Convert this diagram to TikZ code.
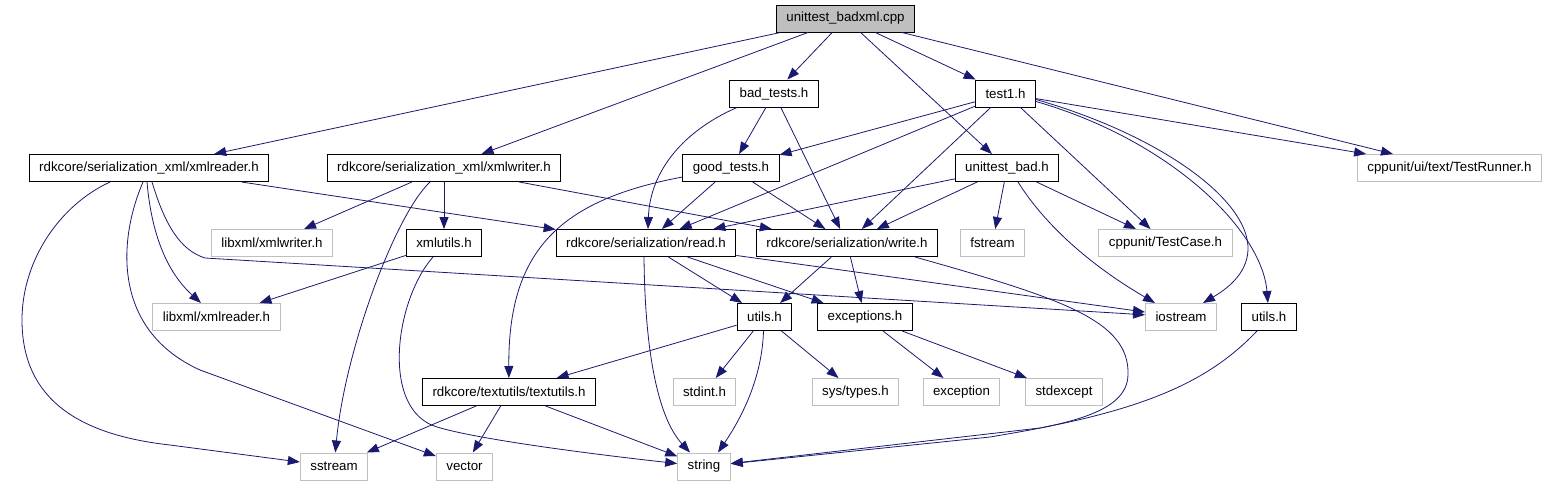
\documentclass[tikz,border=0pt]{standalone}
\usepackage{fontspec}
\setmainfont{Liberation Sans}
\usetikzlibrary{arrows.meta}
\definecolor{edgeblue}{HTML}{191970}
\definecolor{boxgray}{HTML}{BFBFBF}

\begin{document}
\begin{tikzpicture}[x=1pt, y=-1pt]
\tikzstyle{header} = [rectangle, minimum height=27pt, inner xsep=10pt, inner ysep=0pt, draw=black, line width=1pt, text=black, font=\fontsize{13.3}{16}\selectfont]
\tikzstyle{syshead} = [header, draw=boxgray]
\tikzstyle{source} = [header, fill=boxgray]
\tikzstyle{arrow} = [draw=edgeblue, line width=0.8pt, -{Triangle[length=12pt,width=9pt]}]

\useasboundingbox (0,0) rectangle (1547,485);

\node (root) [source] at (845.5,18.5) {unittest\_badxml.cpp};
\node (badtests) [header] at (774,93.5) {bad\_tests.h};
\node (test1) [header] at (1005.5,93.5) {test1.h};
\node (xmlreader) [header] at (149,168) {rdkcore/serialization\_xml/xmlreader.h};
\node (xmlwriter) [header] at (444,168) {rdkcore/serialization\_xml/xmlwriter.h};
\node (goodtests) [header] at (731,168) {good\_tests.h};
\node (unitbad) [header] at (1007,168) {unittest\_bad.h};
\node (runner) [syshead] at (1449.5,168) {cppunit/ui/text/TestRunner.h};
\node (libwriter) [syshead] at (272,243) {libxml/xmlwriter.h};
\node (xmlutils) [header] at (444,243) {xmlutils.h};
\node (readh) [header] at (646,243) {rdkcore/serialization/read.h};
\node (writeh) [header] at (847,243) {rdkcore/serialization/write.h};
\node (fstream) [syshead] at (992.5,243) {fstream};
\node (testcase) [syshead] at (1165.5,243) {cppunit/TestCase.h};
\node (libreader) [syshead] at (216.5,317) {libxml/xmlreader.h};
\node (utils) [header] at (764.5,317) {utils.h};
\node (exceptions) [header] at (865,317) {exceptions.h};
\node (iostream) [syshead] at (1181,317) {iostream};
\node (utilsb) [header] at (1269,317) {utils.h};
\node (textutils) [header] at (509,392) {rdkcore/textutils/textutils.h};
\node (stdint) [syshead] at (704.5,392) {stdint.h};
\node (systypes) [syshead] at (855.5,392) {sys/types.h};
\node (exception) [syshead] at (961.5,392) {exception};
\node (stdexcept) [syshead] at (1064,392) {stdexcept};
\node (sstream) [syshead] at (334,466.5) {sstream};
\node (vector) [syshead] at (464.5,466.5) {vector};
\node (string) [syshead] at (704,466.5) {string};

\draw [arrow] (root) -- (xmlreader);
\draw [arrow] (root) -- (xmlwriter);
\draw [arrow] (root) -- (badtests);
\draw [arrow] (root) -- (test1);
\draw [arrow] (root) -- (unitbad);
\draw [arrow] (root) -- (runner);

\draw [arrow] (badtests) -- (goodtests);
\draw [arrow] ([xshift=-37pt]badtests.south) .. controls (685,130) and (650,170) .. ([xshift=2pt]readh.north);
\draw [arrow] (badtests) -- (writeh);

\draw [arrow] (test1) -- (goodtests);
\draw [arrow] (test1) -- (readh);
\draw [arrow] (test1) -- (writeh);
\draw [arrow] (test1) -- (runner);
\draw [arrow] (test1) -- (testcase);
\draw [arrow] ([yshift=-6pt]test1.east) .. controls (1160,135) and (1250,200) .. (1248,250) .. controls (1247,275) and (1225,290) .. ([xshift=22pt]iostream.north);
\draw [arrow] ([yshift=-8pt]test1.east) .. controls (1170,140) and (1262,230) .. (utilsb);

\draw [arrow] (xmlreader) -- (readh);
\draw [arrow] ([xshift=-39pt]xmlreader.south) .. controls (60,205) and (22,260) .. (22,320) .. controls (22,400) and (80,435) .. (170,445) -- (sstream);
\draw [arrow] ([xshift=-6pt]xmlreader.south) .. controls (118,240) and (112,330) .. (200,370) -- (vector);
\draw [arrow] ([xshift=-2pt]xmlreader.south) .. controls (152,240) and (170,275) .. (libreader);
\draw [arrow] ([xshift=3pt]xmlreader.south) .. controls (165,225) and (180,250) .. (205,258) -- (iostream);

\draw [arrow] (xmlwriter) -- (libwriter);
\draw [arrow] (xmlwriter) -- (xmlutils);
\draw [arrow] ([xshift=-14pt]xmlwriter.south) .. controls (395,215) and (345,350) .. (sstream);
\draw [arrow] (xmlwriter) -- (writeh);

\draw [arrow] (xmlutils) -- (libreader);
\draw [arrow] ([xshift=-11pt]xmlutils.south) .. controls (395,300) and (380,410) .. (437,427) .. controls (480,440) and (600,455) .. (string);

\draw [arrow] (goodtests) -- (readh);
\draw [arrow] (goodtests) -- (writeh);
\draw [arrow] ([yshift=-9pt]goodtests.west) .. controls (560,200) and (508,250) .. (textutils);

\draw [arrow] (unitbad) -- (readh);
\draw [arrow] (unitbad) -- (writeh);
\draw [arrow] (unitbad) -- (fstream);
\draw [arrow] (unitbad) -- (testcase);
\draw [arrow] ([xshift=11pt]unitbad.south) .. controls (1045,225) and (1090,265) .. ([xshift=-26pt]iostream.north);

\draw [arrow] (readh) -- (utils);
\draw [arrow] (readh) -- (exceptions);
\draw [arrow] ([xshift=-2pt]readh.south) .. controls (645,360) and (660,420) .. ([xshift=-14pt]string.north);
\draw [arrow] (readh) -- (iostream);

\draw [arrow] (writeh) -- (utils);
\draw [arrow] (writeh) -- (exceptions);
\draw [arrow] ([xshift=68pt]writeh.south) .. controls (1060,298) and (1130,320) .. (1128,375) .. controls (1127,415) and (1060,425) .. (990,437) -- (string);

\draw [arrow] (utils) -- (textutils);
\draw [arrow] (utils) -- (stdint);
\draw [arrow] ([xshift=-1pt]utils.south) .. controls (762,380) and (740,420) .. ([xshift=14pt]string.north);
\draw [arrow] (utils) -- (systypes);

\draw [arrow] (exceptions) -- (exception);
\draw [arrow] (exceptions) -- (stdexcept);

\draw [arrow] (textutils) -- (sstream);
\draw [arrow] (textutils) -- (vector);
\draw [arrow] (textutils) -- (string);

\draw [arrow] ([xshift=-12pt]utilsb.south) .. controls (1215,375) and (1160,405) .. (1040,428) -- (string);
\end{tikzpicture}
\end{document}
